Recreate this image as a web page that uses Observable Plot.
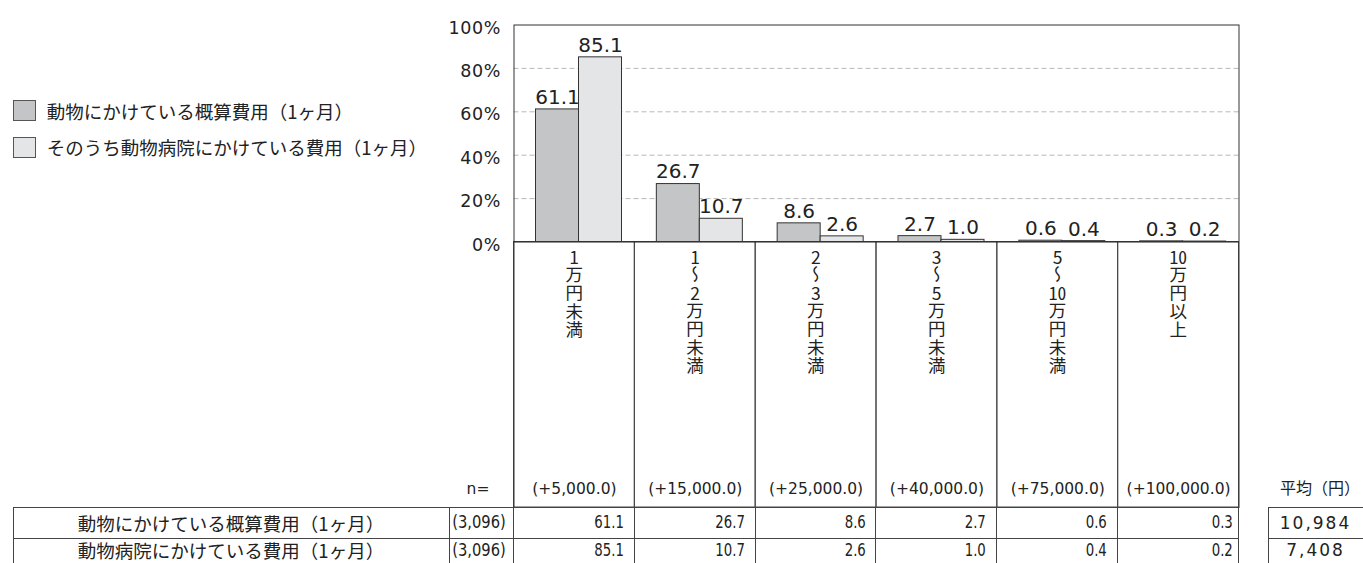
<!DOCTYPE html>
<html>
<head>
<meta charset="utf-8">
<script src="https://cdn.jsdelivr.net/npm/d3@7"></script>
<script src="https://cdn.jsdelivr.net/npm/@observablehq/plot@0.6"></script>
<style>
  body { margin: 0; background: #fff; }
  #wrap { position: relative; width: 1363px; height: 563px; overflow: hidden; color: #222; background: #fff; }
  #chart svg { display: block; }
  #legend { position: absolute; left: 13px; top: 100px; font-family: "Noto Sans CJK JP", sans-serif; font-size: 18.5px; color: #222; }
  #legend .item { display: flex; align-items: center; height: 21px; margin-bottom: 15.7px; white-space: nowrap; }
  #legend .sw { width: 21px; height: 19px; border: 1px solid #555; margin-right: 10.7px; flex: none; }
  .vlab { position: absolute; top: 248px; display: flex; justify-content: center; }
  .vlab .vt { writing-mode: vertical-rl; text-orientation: mixed; font-family: "Noto Sans CJK JP", sans-serif; font-size: 17.5px; line-height: 1; letter-spacing: 1px; color: #222; }
  .vlab .tcy { text-combine-upright: all; }
  table.grid { position: absolute; border-collapse: collapse; table-layout: fixed; }
  table.grid td { border: 1px solid #444; padding: 0; box-sizing: border-box; white-space: nowrap; overflow: hidden; line-height: 20px; }
  table.grid tr.r0 td { height: 31px; vertical-align: middle; }
  table.grid tr.r1 td { height: 25px; vertical-align: top; padding-top: 1px; border-bottom: none; }
  td.lab { text-align: center; font-family: "Noto Sans CJK JP", sans-serif; font-size: 18.5px; }
  table.grid td.num { text-align: right; padding-right: 10px; }
  table.grid td.num.last { padding-right: 5px; }
  table.grid td.num.n { padding-right: 7.5px; }
  td.num span { display: inline-block; margin-left: -40px; font-family: "DejaVu Sans", sans-serif; font-size: 17.5px; transform: scaleX(0.76); transform-origin: right center; }
  td.num.n span { transform: scaleX(0.84); }
  td.avg { text-align: center; font-family: "DejaVu Sans", sans-serif; font-size: 17px; letter-spacing: 2px; }
  g[aria-label="y-axis tick label"] { letter-spacing: 0.6px; }
</style>
</head>
<body>
<div id="wrap">
  <div id="chart"></div>
  <div id="legend"></div>
  <table class="grid" id="tbl"><colgroup id="cols"></colgroup><tbody></tbody></table>
  <table class="grid" id="avgtbl"><tbody></tbody></table>
</div>
<script>
// ---- data ----
const categories = ["1万円未満", "1〜2万円未満", "2〜3万円未満", "3〜5万円未満", "5〜10万円未満", "10万円以上"];
const midpoints = ["(+5,000.0)", "(+15,000.0)", "(+25,000.0)", "(+40,000.0)", "(+75,000.0)", "(+100,000.0)"];
const seriesNames = ["動物にかけている概算費用（1ヶ月）", "そのうち動物病院にかけている費用（1ヶ月）"];
const tableRowLabels = ["動物にかけている概算費用（1ヶ月）", "動物病院にかけている費用（1ヶ月）"];
const totalCost = [61.1, 26.7, 8.6, 2.7, 0.6, 0.3];
const vetCost = [85.1, 10.7, 2.6, 1.0, 0.4, 0.2];
const sampleSizes = ["(3,096)", "(3,096)"];
const averages = ["10,984", "7,408"];
const yTicks = [0, 20, 40, 60, 80, 100];
const nLabel = "n=";
const avgLabel = "平均（円）";
const colors = ["#c4c5c7", "#e4e5e7"];

// ---- layout ----
const W = 1363, H = 507, TOP = 24.5, ZERO = 241.5, LEFT = 513.5, RIGHT = 1238.5;
const bw = (RIGHT - LEFT) / categories.length;
const JP = "'Noto Sans CJK JP', 'Noto Sans', sans-serif";
const NUM = "'DejaVu Sans', sans-serif";
const BAR1 = [22, 65], BAR2 = [65, 108];

const rows = categories.map((category, i) => ({category, total: totalCost[i], vet: vetCost[i], mid: midpoints[i]}));

const chart = Plot.plot({
  width: W, height: H,
  marginLeft: LEFT, marginRight: W - RIGHT, marginTop: TOP, marginBottom: 0,
  style: {background: "#fff", color: "#222", fontFamily: NUM, overflow: "visible"},
  x: {type: "band", domain: categories, padding: 0, round: false, axis: null},
  y: {domain: [0, 100], range: [ZERO, TOP], axis: null},
  marks: [
    Plot.ruleY([20, 40, 60, 80], {stroke: "#b8b8b8", strokeDasharray: "5,3"}),
    Plot.barY(rows, {x: "category", y: "total", fill: colors[0], stroke: "#333", strokeWidth: 1, insetLeft: BAR1[0], insetRight: bw - BAR1[1]}),
    Plot.barY(rows, {x: "category", y: "vet", fill: colors[1], stroke: "#333", strokeWidth: 1, insetLeft: BAR2[0], insetRight: bw - BAR2[1]}),
    Plot.cell(rows, {x: "category", fill: "none", stroke: "#444", insetTop: ZERO - TOP, insetBottom: 0, insetLeft: 0, insetRight: 0}),
    Plot.ruleY([0], {stroke: "#222"}),
    Plot.frame({stroke: "#333"}),
    Plot.axisY(yTicks, {tickSize: 0, tickPadding: 13, tickFormat: d => d + "%", fontSize: 17.5, fontFamily: NUM, dy: 3}),
    Plot.text(rows, {x: "category", y: "total", text: d => d.total.toFixed(1), dx: (BAR1[0] + BAR1[1]) / 2 - bw / 2, dy: -12, fontSize: 20, fontFamily: NUM}),
    Plot.text(rows, {x: "category", y: "vet", text: d => d.vet.toFixed(1), dx: (BAR2[0] + BAR2[1]) / 2 - bw / 2, dy: -12, fontSize: 20, fontFamily: NUM}),
    Plot.text(rows, {x: "category", text: "mid", frameAnchor: "bottom", dy: -14, fontSize: 15.5, fontFamily: NUM}),
    Plot.text([nLabel], {text: d => d, frameAnchor: "bottom-left", textAnchor: "middle", dx: -36, dy: -14, fontSize: 15.5, fontFamily: NUM}),
    Plot.text([avgLabel], {text: d => d, frameAnchor: "bottom-right", textAnchor: "middle", dx: 81, dy: -14, fontSize: 16, fontFamily: JP})
  ]
});
document.getElementById("chart").appendChild(chart);

// ---- vertical category labels, placed with the plot's x scale ----
const sx = chart.scale("x");
const bandStart = c => (typeof sx.apply === "function") ? sx.apply(c) : sx.range[0] + categories.indexOf(c) * sx.bandwidth;
const wrap = document.getElementById("wrap");
categories.forEach(c => {
  const d = document.createElement("div");
  d.className = "vlab";
  d.style.left = bandStart(c) + "px";
  d.style.width = sx.bandwidth + "px";
  d.innerHTML = `<span class="vt">${c.replace(/\d+/g, m => `<span class="tcy">${m}</span>`)}</span>`;
  wrap.appendChild(d);
});

// ---- legend ----
const legend = document.getElementById("legend");
seriesNames.forEach((name, i) => {
  const item = document.createElement("div");
  item.className = "item";
  item.innerHTML = `<span class="sw" style="background:${colors[i]}"></span><span>${name}</span>`;
  legend.appendChild(item);
});

// ---- table ----
const tbl = document.getElementById("tbl");
tbl.style.left = "12.5px";
tbl.style.top = "506.5px";
const colWidths = [436, LEFT - 449, ...categories.map(() => bw)];
tbl.style.width = (colWidths.reduce((a, b) => a + b, 0) + 1) + "px";
document.getElementById("cols").innerHTML = colWidths.map(w => `<col style="width:${w}px">`).join("");
const series = [totalCost, vetCost];
tableRowLabels.forEach((label, r) => {
  const tr = document.createElement("tr");
  tr.className = "r" + r;
  tr.innerHTML = `<td class="lab">${label}</td><td class="num n"><span>${sampleSizes[r]}</span></td>` +
    series[r].map((v, j) => `<td class="num${j === series[r].length - 1 ? " last" : ""}"><span>${v.toFixed(1)}</span></td>`).join("");
  tbl.tBodies[0].appendChild(tr);
});
const avgTbl = document.getElementById("avgtbl");
avgTbl.style.left = "1267.5px";
avgTbl.style.top = "506.5px";
avgTbl.style.width = "96px";
averages.forEach((a, r) => {
  const tr = document.createElement("tr");
  tr.className = "r" + r;
  tr.innerHTML = `<td class="avg">${a}</td>`;
  avgTbl.tBodies[0].appendChild(tr);
});
</script>
</body>
</html>
